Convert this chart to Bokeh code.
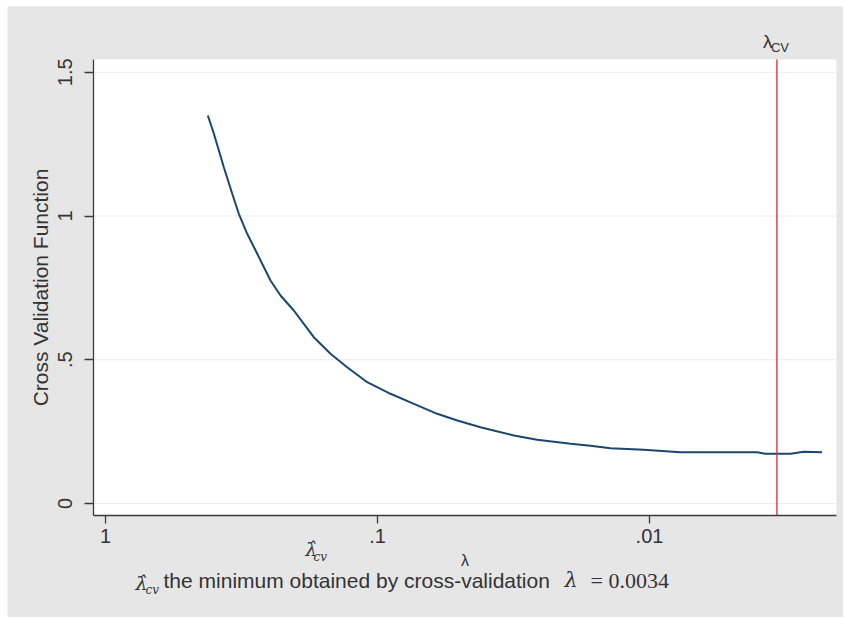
from bokeh.plotting import figure
from bokeh.models import (Range1d, FixedTicker, CustomJSTickFormatter, Label,
                          BoxAnnotation)
from bokeh.embed import file_html
from bokeh.resources import INLINE

# ---- data ----
lam = [0.4206, 0.3995, 0.3673, 0.3421, 0.3235, 0.3013, 0.2768, 0.2474, 0.2273,
       0.2031, 0.1866, 0.1715, 0.1489, 0.1293, 0.1091, 0.0896, 0.0735, 0.0603,
       0.0509, 0.0418, 0.0384, 0.0315, 0.0259, 0.0195, 0.0165, 0.0139, 0.0105,
       0.00769, 0.00548, 0.00402, 0.00375, 0.00303, 0.00271, 0.00232]
cv = [1.3496, 1.2859, 1.1697, 1.0772, 1.0077, 0.9381, 0.8685, 0.7757, 0.7235,
      0.6713, 0.6250, 0.5784, 0.5207, 0.4741, 0.4219, 0.3816, 0.3468, 0.3120,
      0.2887, 0.2654, 0.2563, 0.2365, 0.2216, 0.2077, 0.2007, 0.1923, 0.1868,
      0.1784, 0.1784, 0.1784, 0.1729, 0.1729, 0.1798, 0.1784]
lam_cv = 0.0034
x_ticks = [1, 0.1, 0.01]
y_ticks = [0, 0.5, 1, 1.5]
y_title = "Cross Validation Function"
x_title = "λ"
caption_main = "the minimum obtained by cross-validation"
caption_value = "= 0.0034"

# plot region (white) and whole canvas (grey) extents
x_start, x_end = 1.1069, 0.0020535
y_start, y_end = -0.04174, 1.54435
X_FULL = (2.2929, 0.0019353)
Y_FULL = (-0.39652, 1.72870)

TXT = "#333333"
SANS = "Liberation Sans"
SERIF = "DejaVu Serif"
GREY = "#e6e6e6"

p = figure(width=836, height=611, x_axis_type="log",
           x_range=Range1d(*X_FULL), y_range=Range1d(*Y_FULL),
           output_backend="svg", toolbar_location=None, min_border=0)
p.styles = {"margin-left": "7px", "margin-top": "6px"}
p.background_fill_color = GREY
p.border_fill_color = GREY
p.outline_line_color = None
p.grid.visible = False

# white plot region
p.add_layout(BoxAnnotation(left=x_start, right=x_end, bottom=y_start, top=y_end,
                           fill_color="white", fill_alpha=1, line_color=None,
                           level="underlay"))

fmt = CustomJSTickFormatter(code="""
    if (tick == 0) return "0";
    return String(tick).replace(/^0\\./, ".");
""")

for ax, ticks in ((p.xaxis[0], x_ticks), (p.yaxis[0], y_ticks)):
    ax.ticker = FixedTicker(ticks=ticks, minor_ticks=[])
    ax.formatter = fmt
    ax.axis_line_color = "#3c3c3c"
    ax.axis_line_width = 1.3
    ax.major_tick_line_color = "#3c3c3c"
    ax.major_tick_line_width = 1.3
    ax.major_tick_in = 0
    ax.minor_tick_line_color = None
    ax.major_label_text_font = SANS
    ax.major_label_text_font_size = "20px"
    ax.major_label_text_color = TXT
    ax.axis_label_text_font = SANS
    ax.axis_label_text_font_style = "normal"
    ax.axis_label_text_color = TXT

p.xaxis.fixed_location = y_start
p.xaxis.bounds = (x_end, x_start)
p.xaxis.major_tick_out = 8
p.xaxis.major_label_standoff = 5
p.xaxis.axis_label = x_title
p.xaxis.axis_label_text_font_size = "16px"
p.xaxis.axis_label_standoff = 6

p.yaxis.fixed_location = x_start
p.yaxis.bounds = (y_start, y_end)
p.yaxis.major_tick_out = 9
p.yaxis.major_label_orientation = "vertical"
p.yaxis.major_label_standoff = 13
p.yaxis.axis_label = y_title
p.yaxis.axis_label_text_font_size = "21px"
p.yaxis.axis_label_standoff = 3

# horizontal grid lines across the plot region
n = len(y_ticks)
p.segment(x0=[x_start] * n, y0=y_ticks, x1=[x_end] * n, y1=y_ticks,
          line_color="#e6eef0", line_width=1)

p.line(lam, cv, line_color="#1a476f", line_width=2)
p.segment(x0=[lam_cv], y0=[y_start], x1=[lam_cv], y1=[y_end],
          line_color="#d23a3a", line_width=1.4)

FL, FT, FB = 93, 59, 515  # plot-region left / top / bottom in page pixels


def mid_of(baseline, size):
    return baseline - 0.35 * size


# top label of the vertical line
p.add_layout(Label(x=lam_cv, y=y_end, text="λ", x_offset=-14,
                   y_offset=FT - mid_of(48, 19),
                   text_font=SANS, text_font_size="19px", text_color=TXT,
                   text_baseline="middle", text_align="left"))
p.add_layout(Label(x=lam_cv, y=y_end, text="CV", x_offset=-6,
                   y_offset=FT - mid_of(52, 13),
                   text_font=SANS, text_font_size="13px", text_color=TXT,
                   text_baseline="middle", text_align="left"))


def note(txt, px, base, size, font=SANS, style="normal"):
    p.add_layout(Label(x=x_start, y=y_start, text=txt,
                       x_offset=px - FL, y_offset=FB - mid_of(base, size),
                       text_font=font, text_font_size=f"{size}px",
                       text_font_style=style, text_color=TXT,
                       text_baseline="middle", text_align="left"))


# stray lambda_cv mark under the axis
note("λ̂", 305, 555, 18, SERIF, "italic")
note("cv", 313, 561, 12, SERIF, "italic")

# caption
note("λ̂", 135, 589, 19, SERIF, "italic")
note("cv", 145, 594, 12, SERIF, "italic")
note(caption_main, 163, 587, 21, SANS)
note("λ", 564, 587, 21, SERIF, "italic")
note(caption_value, 590, 588, 22, "Liberation Serif")

open("out.html", "w").write(file_html(p, INLINE))
